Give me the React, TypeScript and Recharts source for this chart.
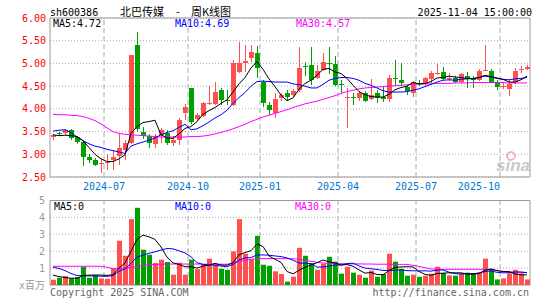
import { ComposedChart, Bar, Line, XAxis, YAxis, CartesianGrid, ReferenceLine, ReferenceArea, Cell } from 'recharts';

// weekly bars, Monday of each week
const weeks = [
  '2024-04-29', '2024-05-06', '2024-05-13', '2024-05-20', '2024-05-27', '2024-06-03', '2024-06-10', '2024-06-17', '2024-06-24', '2024-07-01',
  '2024-07-08', '2024-07-15', '2024-07-22', '2024-07-29', '2024-08-05', '2024-08-12', '2024-08-19', '2024-08-26', '2024-09-02', '2024-09-09',
  '2024-09-16', '2024-09-23', '2024-09-30', '2024-10-07', '2024-10-14', '2024-10-21', '2024-10-28', '2024-11-04', '2024-11-11', '2024-11-18',
  '2024-11-25', '2024-12-02', '2024-12-09', '2024-12-16', '2024-12-23', '2024-12-30', '2025-01-06', '2025-01-13', '2025-01-20', '2025-01-27',
  '2025-02-03', '2025-02-10', '2025-02-17', '2025-02-24', '2025-03-03', '2025-03-10', '2025-03-17', '2025-03-24', '2025-03-31', '2025-04-07',
  '2025-04-14', '2025-04-21', '2025-04-28', '2025-05-05', '2025-05-12', '2025-05-19', '2025-05-26', '2025-06-02', '2025-06-09', '2025-06-16',
  '2025-06-23', '2025-06-30', '2025-07-07', '2025-07-14', '2025-07-21', '2025-07-28', '2025-08-04', '2025-08-11', '2025-08-18', '2025-08-25',
  '2025-09-01', '2025-09-08', '2025-09-15', '2025-09-22', '2025-09-29', '2025-10-06', '2025-10-13', '2025-10-20', '2025-10-27', '2025-11-03',
];

const openPx = [
  3.37, 3.46, 3.46, 3.53, 3.37, 3.27, 2.94, 2.87, 2.78, 2.80,
  2.87, 2.96, 3.09, 3.24, 5.40, 3.49, 3.40, 3.23, 3.42, 3.47,
  3.24, 3.32, 3.90, 4.45, 3.78, 3.85, 4.11, 4.10, 4.41, 4.20,
  4.08, 4.82, 5.01, 5.13, 5.22, 4.60, 4.08, 3.91, 4.25, 4.34,
  4.30, 4.41, 4.94, 4.96, 4.67, 4.85, 5.02, 4.99, 4.54, 4.25,
  4.27, 4.25, 4.34, 4.22, 4.35, 4.26, 4.22, 4.67, 4.63, 4.48,
  4.36, 4.57, 4.54, 4.66, 4.77, 4.81, 4.67, 4.68, 4.59, 4.73,
  4.68, 4.63, 4.84, 4.83, 4.59, 4.49, 4.44, 4.59, 4.86, 4.87,
];
const highPx = [
  3.45, 3.50, 3.55, 3.55, 3.40, 3.30, 3.01, 2.92, 2.90, 3.00,
  3.10, 3.47, 3.31, 5.19, 5.70, 3.60, 3.44, 3.44, 3.57, 3.53,
  3.40, 3.79, 4.10, 4.47, 3.90, 4.15, 4.50, 4.60, 4.47, 4.41,
  5.07, 5.48, 5.40, 5.40, 5.38, 4.63, 4.15, 4.34, 4.36, 4.41,
  4.43, 5.37, 5.04, 5.37, 4.96, 5.22, 5.37, 5.16, 4.63, 4.46,
  4.35, 4.39, 4.39, 4.66, 4.41, 4.50, 4.75, 5.07, 5.02, 4.52,
  4.61, 4.64, 4.70, 4.83, 4.99, 4.93, 4.78, 4.73, 4.78, 4.81,
  4.73, 4.88, 5.40, 4.88, 4.63, 4.57, 4.63, 4.90, 4.94, 4.96,
];
const lowPx = [
  3.31, 3.41, 3.43, 3.31, 3.23, 2.74, 2.80, 2.74, 2.59, 2.65,
  2.66, 2.76, 2.88, 3.22, 3.50, 3.34, 3.13, 3.13, 3.24, 3.20,
  3.18, 3.20, 3.75, 3.66, 3.74, 3.83, 4.08, 4.08, 4.08, 4.08,
  4.06, 4.79, 4.82, 5.04, 4.67, 4.04, 3.86, 3.79, 4.17, 4.19,
  4.27, 4.38, 4.72, 4.52, 4.65, 4.84, 4.76, 4.50, 4.34, 3.58,
  4.09, 4.17, 4.15, 4.19, 4.12, 4.15, 4.15, 4.50, 4.50, 4.30,
  4.27, 4.51, 4.51, 4.58, 4.74, 4.63, 4.62, 4.56, 4.57, 4.46,
  4.46, 4.61, 4.83, 4.57, 4.41, 4.44, 4.29, 4.55, 4.80, 4.85,
];
const closePx = [
  3.43, 3.45, 3.53, 3.35, 3.27, 2.94, 2.88, 2.77, 2.81, 2.82,
  2.94, 3.14, 3.24, 5.18, 3.55, 3.40, 3.24, 3.40, 3.54, 3.24,
  3.31, 3.76, 4.03, 3.70, 3.86, 4.12, 4.12, 4.37, 4.19, 4.19,
  5.00, 5.00, 5.06, 5.26, 4.89, 4.12, 3.97, 4.21, 4.30, 4.26,
  4.40, 4.91, 4.93, 4.63, 4.84, 5.03, 5.01, 4.53, 4.53, 4.26,
  4.26, 4.35, 4.17, 4.30, 4.24, 4.22, 4.68, 4.65, 4.57, 4.40,
  4.59, 4.56, 4.68, 4.78, 4.78, 4.66, 4.68, 4.59, 4.76, 4.65,
  4.63, 4.83, 4.85, 4.59, 4.48, 4.50, 4.54, 4.83, 4.87, 4.93,
];

// volume, millions of shares
const volume = [
  0.31, 0.43, 0.53, 0.39, 0.47, 1.08, 0.43, 0.57, 0.39, 0.37,
  0.98, 2.62, 1.73, 3.90, 4.57, 2.09, 1.79, 1.30, 1.50, 1.36,
  0.61, 1.32, 0.61, 1.50, 0.94, 1.22, 1.56, 1.20, 0.96, 0.90,
  1.99, 3.90, 1.85, 1.52, 2.91, 1.20, 1.14, 0.81, 0.65, 0.20,
  0.49, 2.20, 1.73, 1.30, 0.90, 1.26, 1.67, 1.38, 0.67, 1.08,
  0.73, 0.61, 0.43, 0.85, 0.49, 0.65, 1.85, 1.38, 0.96, 0.55,
  0.61, 0.49, 0.55, 0.67, 1.08, 0.71, 0.57, 0.55, 0.67, 0.73,
  0.69, 0.75, 1.56, 0.96, 0.33, 0.39, 0.69, 0.90, 0.69, 0.33,
];

const ma5 = [
  3.43, 3.41, 3.42, 3.41, 3.39, 3.30, 3.15, 3.00, 2.90, 2.84,
  2.84, 2.90, 2.99, 3.46, 3.61, 3.70, 3.72, 3.75, 3.43, 3.36,
  3.35, 3.45, 3.57, 3.61, 3.72, 3.88, 3.96, 4.03, 4.12, 4.20,
  4.37, 4.55, 4.69, 4.90, 5.04, 4.87, 4.66, 4.49, 4.30, 4.18,
  4.24, 4.43, 4.56, 4.63, 4.74, 4.87, 4.89, 4.81, 4.78, 4.67,
  4.52, 4.38, 4.31, 4.27, 4.26, 4.26, 4.32, 4.42, 4.47, 4.50,
  4.58, 4.55, 4.56, 4.60, 4.68, 4.69, 4.72, 4.70, 4.69, 4.67,
  4.66, 4.69, 4.74, 4.71, 4.68, 4.65, 4.59, 4.59, 4.64, 4.72,
];
const ma10 = [
  3.51, 3.53, 3.54, 3.48, 3.38, 3.30, 3.23, 3.18, 3.15, 3.11,
  3.08, 3.05, 3.02, 3.18, 3.23, 3.27, 3.31, 3.36, 3.43, 3.48,
  3.52, 3.59, 3.66, 3.54, 3.56, 3.63, 3.71, 3.80, 3.87, 3.97,
  4.12, 4.25, 4.36, 4.50, 4.60, 4.61, 4.60, 4.59, 4.59, 4.59,
  4.55, 4.53, 4.50, 4.46, 4.46, 4.54, 4.63, 4.67, 4.69, 4.69,
  4.67, 4.63, 4.56, 4.52, 4.46, 4.40, 4.37, 4.37, 4.37, 4.38,
  4.41, 4.44, 4.49, 4.54, 4.59, 4.63, 4.64, 4.63, 4.65, 4.66,
  4.67, 4.69, 4.72, 4.70, 4.67, 4.65, 4.64, 4.66, 4.67, 4.69,
];
const ma30 = [
  3.88, 3.87, 3.87, 3.86, 3.85, 3.83, 3.79, 3.74, 3.67, 3.58,
  3.50, 3.46, 3.44, 3.43, 3.42, 3.41, 3.40, 3.39, 3.38, 3.38,
  3.38, 3.38, 3.38, 3.39, 3.39, 3.40, 3.42, 3.45, 3.48, 3.52,
  3.56, 3.61, 3.66, 3.72, 3.77, 3.82, 3.86, 3.90, 3.94, 3.98,
  4.03, 4.07, 4.11, 4.14, 4.17, 4.21, 4.25, 4.29, 4.34, 4.38,
  4.41, 4.44, 4.46, 4.47, 4.48, 4.49, 4.50, 4.51, 4.52, 4.53,
  4.54, 4.54, 4.55, 4.55, 4.56, 4.56, 4.56, 4.57, 4.57, 4.57,
  4.58, 4.58, 4.58, 4.58, 4.58, 4.58, 4.57, 4.57, 4.57, 4.57,
];

const volMa5 = [
  0.58, 0.50, 0.44, 0.40, 0.40, 0.56, 0.58, 0.59, 0.59, 0.57,
  0.60, 1.00, 1.30, 2.00, 2.70, 2.95, 2.85, 2.70, 2.25, 1.65,
  1.31, 1.22, 1.08, 1.08, 1.00, 1.12, 1.17, 1.28, 1.18, 1.17,
  1.32, 1.79, 1.92, 2.03, 2.43, 2.28, 1.72, 1.52, 1.34, 0.80,
  0.66, 0.87, 1.05, 1.18, 1.32, 1.48, 1.37, 1.30, 1.18, 1.21,
  1.11, 0.89, 0.70, 0.74, 0.62, 0.61, 0.85, 1.04, 1.07, 1.08,
  1.07, 0.80, 0.63, 0.57, 0.68, 0.70, 0.72, 0.72, 0.72, 0.65,
  0.64, 0.68, 0.88, 0.94, 0.86, 0.80, 0.79, 0.65, 0.60, 0.60,
];
const volMa10 = [
  1.05, 0.98, 0.85, 0.68, 0.56, 0.55, 0.54, 0.53, 0.52, 0.51,
  0.56, 0.82, 0.95, 1.28, 1.66, 1.76, 1.88, 1.96, 2.07, 2.16,
  2.14, 2.02, 1.90, 1.67, 1.32, 1.22, 1.19, 1.17, 1.12, 1.08,
  1.22, 1.48, 1.60, 1.62, 1.78, 1.78, 1.76, 1.72, 1.68, 1.60,
  1.47, 1.30, 1.29, 1.26, 1.06, 1.07, 1.12, 1.18, 1.18, 1.27,
  1.29, 1.13, 1.00, 0.96, 0.92, 0.86, 0.87, 0.87, 0.90, 0.85,
  0.84, 0.83, 0.84, 0.82, 0.88, 0.89, 0.76, 0.67, 0.65, 0.66,
  0.67, 0.70, 0.80, 0.83, 0.75, 0.72, 0.73, 0.77, 0.77, 0.73,
];
const volMa30 = [
  1.11, 1.11, 1.11, 1.11, 1.11, 1.11, 1.11, 1.11, 1.11, 1.05,
  0.96, 0.97, 1.00, 1.04, 1.10, 1.16, 1.20, 1.22, 1.23, 1.24,
  1.24, 1.24, 1.24, 1.24, 1.24, 1.23, 1.23, 1.23, 1.23, 1.23,
  1.28, 1.38, 1.46, 1.52, 1.55, 1.56, 1.56, 1.56, 1.56, 1.56,
  1.55, 1.52, 1.46, 1.40, 1.34, 1.30, 1.28, 1.27, 1.26, 1.25,
  1.25, 1.25, 1.24, 1.24, 1.23, 1.23, 1.23, 1.22, 1.22, 1.22,
  1.16, 1.10, 1.02, 0.95, 0.93, 0.93, 0.93, 0.93, 0.93, 0.93,
  0.93, 0.93, 0.93, 0.90, 0.84, 0.80, 0.78, 0.76, 0.75, 0.73,
];

// first week of each quarter month
const monthWeeks = ['2024-07-01', '2024-10-07', '2024-12-30', '2025-03-31', '2025-06-30', '2025-10-06'];
const monthLabels = ['2024-07', '2024-10', '2025-01', '2025-04', '2025-07', '2025-10'];
const priceTicks = [2.5, 3, 3.5, 4, 4.5, 5, 5.5, 6];
const volTicks = [0, 1, 2, 3, 4, 5];

const RED = '#ff5050';
const GREEN = '#00a000';
const GRID = '#aaaaaa';
const MONO = '"DejaVu Sans Mono", "Noto Sans CJK SC", monospace';

const rows = weeks.map((week, i) => ({
  week,
  open: openPx[i],
  high: highPx[i],
  low: lowPx[i],
  close: closePx[i],
  vol: volume[i],
  ma5: ma5[i],
  ma10: ma10[i],
  ma30: ma30[i],
  vma5: volMa5[i],
  vma10: volMa10[i],
  vma30: volMa30[i],
}));

function Candle(props: any) {
  const { x, y, width, height, payload } = props;
  const { open, close, high, low } = payload;
  const color = close >= open ? RED : GREEN;
  const top = Math.min(y, y + height);
  const span = Math.abs(height);
  const yOf = (v: number) => (high === low ? top : top + ((high - v) / (high - low)) * span);
  const bodyTop = Math.round(yOf(Math.max(open, close)));
  const bodyBot = Math.round(yOf(Math.min(open, close)));
  const cx = Math.floor(x + width / 2);
  return (
    <g shapeRendering="crispEdges">
      <rect x={cx} y={Math.round(top)} width={1} height={Math.max(1, Math.round(top + span) - Math.round(top))} fill={color} />
      <rect x={Math.round(x)} y={bodyTop} width={Math.round(width)} height={Math.max(1, bodyBot - bodyTop)} fill={color} />
    </g>
  );
}

function MonthTick({ x, y, payload }: any) {
  const i = monthWeeks.indexOf(payload.value);
  const last = i === monthWeeks.length - 1;
  // labels sit on the month line, i.e. at the start of the band
  return (
    <text x={x - 3} y={y + 12.5} textAnchor={last ? 'end' : 'middle'} fill="#0077cc" fontSize={10} fontFamily={MONO}>
      {monthLabels[i]}
    </text>
  );
}

const monthLines = (yId?: any) =>
  monthWeeks.map((w) => (
    <ReferenceLine key={w} x={w} position="start" stroke={GRID} strokeDasharray="5 3" ifOverflow="visible" />
  ));

export default function App() {
  return (
    <div style={{ position: 'absolute', left: 0, top: 0, width: 545, height: 300, background: '#fff' }}>
      <div style={{ position: 'absolute', left: 0, top: 0 }}>
        <ComposedChart width={545} height={300} data={rows} margin={{ top: 18, right: 15, bottom: 0, left: 0 }}>
          <CartesianGrid vertical={false} stroke={GRID} strokeDasharray="1 2" />
          {monthLines()}
          <XAxis
            dataKey="week"
            height={123}
            ticks={monthWeeks}
            interval={0}
            tick={<MonthTick />}
            tickLine={false}
            axisLine={false}
            tickSize={0}
            tickMargin={0}
          />
          <YAxis
            width={50}
            domain={[2.5, 6]}
            ticks={priceTicks}
            interval={0}
            tickFormatter={(v: number) => v.toFixed(2)}
            tick={{ fill: '#ff0000', fontSize: 10, fontFamily: MONO }}
            tickLine={false}
            axisLine={false}
            tickSize={0}
            tickMargin={4}
          />
          <ReferenceArea y1={2.5} y2={6} fill="none" stroke="#999" strokeWidth={1} ifOverflow="visible" />
          <Bar dataKey={(d: any) => [d.low, d.high]} barSize={5} shape={<Candle />} isAnimationActive={false} />
          <Line type="linear" dataKey="ma30" stroke="#ff00ff" strokeWidth={1} dot={false} isAnimationActive={false} />
          <Line type="linear" dataKey="ma10" stroke="#0000ff" strokeWidth={1} dot={false} isAnimationActive={false} />
          <Line type="linear" dataKey="ma5" stroke="#000000" strokeWidth={1} dot={false} isAnimationActive={false} />
        </ComposedChart>
      </div>

      <div style={{ position: 'absolute', left: 0, top: 0 }}>
        <ComposedChart width={545} height={300} data={rows} margin={{ top: 200.5, right: 15, bottom: 15, left: 0 }}>
          <CartesianGrid vertical={false} stroke={GRID} strokeDasharray="1 2" />
          {monthLines()}
          <XAxis dataKey="week" hide />
          <YAxis
            width={50}
            domain={[0, 5]}
            ticks={volTicks}
            interval={0}
            tickFormatter={(v: number) => (v === 0 ? 'x百万' : String(v))}
            tick={{ fill: '#999', fontSize: 10, fontFamily: MONO }}
            tickLine={false}
            axisLine={false}
            tickSize={0}
            tickMargin={5}
          />
          <ReferenceArea y1={0} y2={5} fill="none" stroke="#999" strokeWidth={1} ifOverflow="visible" />
          <Bar dataKey="vol" barSize={5} isAnimationActive={false}>
            {rows.map((r) => (
              <Cell key={r.week} fill={r.close >= r.open ? RED : GREEN} />
            ))}
          </Bar>
          <Line type="linear" dataKey="vma30" stroke="#ff00ff" strokeWidth={1} dot={false} isAnimationActive={false} />
          <Line type="linear" dataKey="vma10" stroke="#0000ff" strokeWidth={1} dot={false} isAnimationActive={false} />
          <Line type="linear" dataKey="vma5" stroke="#000000" strokeWidth={1} dot={false} isAnimationActive={false} />
        </ComposedChart>
      </div>

      <svg width={545} height={300} style={{ position: 'absolute', left: 0, top: 0, pointerEvents: 'none' }}>
        <g fontFamily={MONO} fontSize={10}>
          <text x={50} y={15.5} fill="#000">sh600386</text>
          <text x={532} y={15.5} fill="#000" textAnchor="end">2025-11-04 15:00:00</text>
          <text x={53} y={27} fill="#000">MA5:4.72</text>
          <text x={175} y={27} fill="#0000ff">MA10:4.69</text>
          <text x={296} y={27} fill="#ff00ff">MA30:4.57</text>
          <text x={54} y={210} fill="#000">MA5:0</text>
          <text x={175} y={210} fill="#0000ff">MA10:0</text>
          <text x={295} y={210} fill="#ff00ff">MA30:0</text>
          <text x={50} y={296} fill="#666">Copyright 2025 SINA.COM</text>
          <text x={529} y={296} fill="#666" textAnchor="end">http://finance.sina.com.cn</text>
        </g>
        <g fontFamily='"Noto Sans CJK SC", sans-serif' fontSize={11} fill="#000">
          <text x={120} y={15.5}>北巴传媒</text>
          <text x={176} y={15.5}>-</text>
          <text x={191} y={15.5}>周K线图</text>
        </g>
        <g opacity={0.55}>
          <circle cx={511} cy={156} r={4} fill="none" stroke="#e06060" strokeWidth={1.5} />
          <text x={496} y={171} fontFamily="Arial, sans-serif" fontSize={17} fontWeight="bold" fontStyle="italic" fill="#a0a0a0">
            sina
          </text>
        </g>
      </svg>
    </div>
  );
}
